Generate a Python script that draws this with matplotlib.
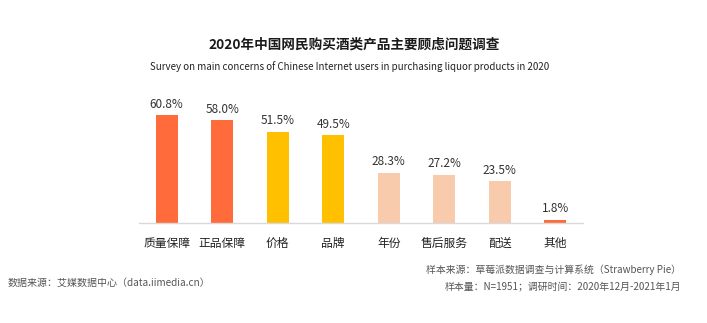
import matplotlib
matplotlib.use("Agg")
from matplotlib import pyplot as plt

plt.rcParams['font.family'] = ['Noto Sans CJK SC', 'DejaVu Sans']

categories = ["质量保障", "正品保障", "价格", "品牌", "年份", "售后服务", "配送", "其他"]
values = [60.8, 58.0, 51.5, 49.5, 28.3, 27.2, 23.5, 1.8]
bar_colors = ["#FF6B3B", "#FF6B3B", "#FFC000", "#FFC000",
              "#F8CBAD", "#F8CBAD", "#F8CBAD", "#FF6B3B"]

title = "2020年中国网民购买酒类产品主要顾虑问题调查"
subtitle = "Survey on main concerns of Chinese Internet users in purchasing liquor products in 2020"
source_left = "数据来源：艾媒数据中心（data.iimedia.cn）"
source_right_1 = "样本来源：草莓派数据调查与计算系统（Strawberry Pie）"
source_right_2 = "样本量：N=1951；调研时间：2020年12月-2021年1月"

W, H = 707, 323
fig = plt.figure(figsize=(W / 100, H / 100), dpi=100)

# axes placed in pixel coords: left 139, right 583, baseline 223, top 99
ax = fig.add_axes([139 / W, 1 - 223 / H, 444 / W, 124 / H])
x = range(len(categories))
ax.bar(x, values, width=0.4, color=bar_colors)
ax.set_xlim(-0.5, len(categories) - 0.5)
ax.set_ylim(0, 70)

for i, v in enumerate(values):
    ax.text(i, v + 2.5, f"{v:.1f}%", ha="center", va="bottom",
            fontsize=8.5, color="#333333")

ax.set_xticks(list(x))
ax.set_xticklabels(categories, fontsize=8.5, color="#222222")
ax.tick_params(axis="x", length=0, pad=10)
ax.set_yticks([])
for s in ["top", "right", "left"]:
    ax.spines[s].set_visible(False)
ax.spines["bottom"].set_color("#D9D9D9")
ax.spines["bottom"].set_linewidth(1)

fig.text(354 / W, 1 - 45 / H, title, ha="center", va="center",
         fontsize=9.8, fontweight="bold", color="#1a1a1a")
fig.text(350 / W, 1 - 67 / H, subtitle, ha="center", va="center",
         fontsize=7, color="#222222")

fig.text(8 / W, 1 - 283 / H, source_left, ha="left", va="center",
         fontsize=7.2, color="#555555")
fig.text(681 / W, 1 - 270 / H, source_right_1, ha="right", va="center",
         fontsize=7.1, color="#555555")
fig.text(681 / W, 1 - 287 / H, source_right_2, ha="right", va="center",
         fontsize=7.1, color="#555555")

fig.savefig("out.png", dpi=100, facecolor="white")
